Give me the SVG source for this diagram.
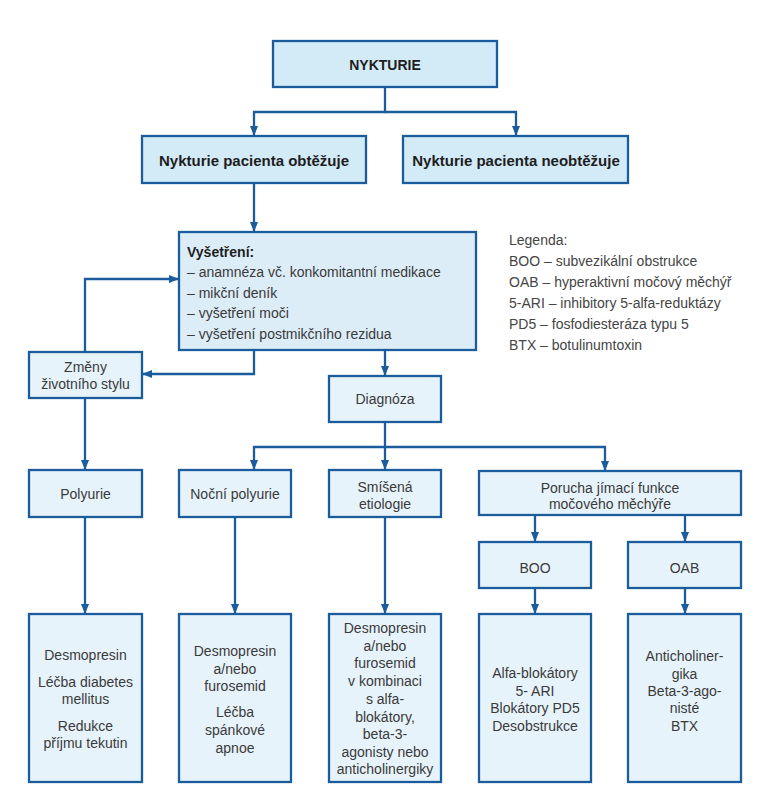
<svg xmlns="http://www.w3.org/2000/svg" width="769" height="800" viewBox="0 0 769 800">
<style>
  .box{stroke:#1b5c9c;stroke-width:2.3;}
  .top{fill:#d3eaf7;}
  .mid{fill:#dcedf8;}
  .low{fill:#e7f3fb;}
  text{font-family:"Liberation Sans",Arial,sans-serif;font-size:14px;fill:#3a3a3a;}
  .c{text-anchor:middle;}
  .b{font-weight:bold;fill:#1e1e1e;}
  .b15{font-size:15px;}
  .leg{fill:#454545;}
  .conn{fill:none;stroke:#1b5c9c;stroke-width:2.3;marker-end:url(#arr);}
</style>
<defs>
  <marker id="arr" viewBox="0 0 10 8" refX="10" refY="4" markerWidth="10" markerHeight="8" markerUnits="userSpaceOnUse" orient="auto">
    <path d="M0,0 L10,4 L0,8 z" fill="#1b5c9c"/>
  </marker>
</defs>
<rect width="769" height="800" fill="#ffffff"/>

<g id="connectors">
  <path class="conn" d="M385,87 V112 H254 V136"/>
  <path class="conn" d="M385,112 H516 V136"/>
  <path class="conn" d="M254,183 V232"/>
  <path class="conn" d="M254,350 V374 H142"/>
  <path class="conn" d="M85,352 V279 H179"/>
  <path class="conn" d="M385,350 V376"/>
  <path class="conn" d="M85,398 V470"/>
  <path class="conn" d="M385,422 V470"/>
  <path class="conn" d="M385,447 H254 V470"/>
  <path class="conn" d="M385,447 H605 V471"/>
  <path class="conn" d="M535,515 V542"/>
  <path class="conn" d="M685,515 V542"/>
  <path class="conn" d="M85,517 V614"/>
  <path class="conn" d="M235,517 V614"/>
  <path class="conn" d="M385,517 V614"/>
  <path class="conn" d="M535,588 V614"/>
  <path class="conn" d="M685,588 V614"/>
</g>

<g id="nykturie">
  <rect class="box top" x="273" y="41" width="224" height="46"/>
  <text class="c b" x="385" y="70">NYKTURIE</text>
</g>
<g id="obtezuje">
  <rect class="box top" x="142" y="136" width="224" height="47"/>
  <text class="c b b15" x="254" y="166">Nykturie pacienta obtěžuje</text>
</g>
<g id="neobtezuje">
  <rect class="box top" x="403" y="136" width="225" height="47"/>
  <text class="c b b15" x="516" y="166">Nykturie pacienta neobtěžuje</text>
</g>
<g id="vysetreni">
  <rect class="box mid" x="179" y="232" width="297" height="118"/>
  <text class="b" x="187" y="257">Vyšetření:</text>
  <text x="187" y="277">– anamnéza vč. konkomitantní medikace</text>
  <text x="187" y="298">– mikční deník</text>
  <text x="187" y="318">– vyšetření moči</text>
  <text x="187" y="339">– vyšetření postmikčního rezidua</text>
</g>
<g id="legenda">
  <text class="leg" x="509" y="245">Legenda:</text>
  <text class="leg" x="509" y="266">BOO – subvezikální obstrukce</text>
  <text class="leg" x="509" y="287">OAB – hyperaktivní močový měchýř</text>
  <text class="leg" x="509" y="308">5-ARI – inhibitory 5-alfa-reduktázy</text>
  <text class="leg" x="509" y="329">PD5 – fosfodiesteráza typu 5</text>
  <text class="leg" x="509" y="350">BTX – botulinumtoxin</text>
</g>
<g id="zmeny">
  <rect class="box low" x="29" y="352" width="113" height="46"/>
  <text class="c" x="85.5" y="372">Změny</text>
  <text class="c" x="85.5" y="389">životního stylu</text>
</g>
<g id="diagnoza">
  <rect class="box low" x="329" y="376" width="112" height="46"/>
  <text class="c" x="385" y="404">Diagnóza</text>
</g>
<g id="polyurie">
  <rect class="box low" x="29" y="470" width="113" height="47"/>
  <text class="c" x="85.5" y="499">Polyurie</text>
</g>
<g id="nocni">
  <rect class="box low" x="179" y="470" width="112" height="47"/>
  <text class="c" x="235" y="499">Noční polyurie</text>
</g>
<g id="smisena">
  <rect class="box low" x="329" y="470" width="112" height="47"/>
  <text class="c" x="385" y="492">Smíšená</text>
  <text class="c" x="385" y="509">etiologie</text>
</g>
<g id="porucha">
  <rect class="box low" x="479" y="471" width="262" height="44"/>
  <text class="c" x="610" y="493">Porucha jímací funkce</text>
  <text class="c" x="610" y="509">močového měchýře</text>
</g>
<g id="boo">
  <rect class="box low" x="479" y="542" width="112" height="46"/>
  <text class="c" x="535" y="573">BOO</text>
</g>
<g id="oab">
  <rect class="box low" x="628" y="542" width="113" height="46"/>
  <text class="c" x="684.5" y="573">OAB</text>
</g>
<g id="lecba1">
  <rect class="box low" x="29" y="614" width="113" height="168"/>
  <text class="c" x="85.5" y="660">Desmopresin</text>
  <text class="c" x="85.5" y="687">Léčba diabetes</text>
  <text class="c" x="85.5" y="704">mellitus</text>
  <text class="c" x="85.5" y="731">Redukce</text>
  <text class="c" x="85.5" y="748">příjmu tekutin</text>
</g>
<g id="lecba2">
  <rect class="box low" x="179" y="614" width="112" height="168"/>
  <text class="c" x="235" y="656">Desmopresin</text>
  <text class="c" x="235" y="674">a/nebo</text>
  <text class="c" x="235" y="691">furosemid</text>
  <text class="c" x="235" y="717">Léčba</text>
  <text class="c" x="235" y="735">spánkové</text>
  <text class="c" x="235" y="753">apnoe</text>
</g>
<g id="lecba3">
  <rect class="box low" x="329" y="614" width="112" height="168"/>
  <text class="c" x="385" y="633">Desmopresin</text>
  <text class="c" x="385" y="651">a/nebo</text>
  <text class="c" x="385" y="668">furosemid</text>
  <text class="c" x="385" y="686">v kombinaci</text>
  <text class="c" x="385" y="704">s alfa-</text>
  <text class="c" x="385" y="722">blokátory,</text>
  <text class="c" x="385" y="739">beta-3-</text>
  <text class="c" x="385" y="757">agonisty nebo</text>
  <text class="c" x="385" y="774">anticholinergiky</text>
</g>
<g id="lecba4">
  <rect class="box low" x="479" y="614" width="112" height="168"/>
  <text class="c" x="535" y="678">Alfa-blokátory</text>
  <text class="c" x="535" y="696">5- ARI</text>
  <text class="c" x="535" y="713">Blokátory PD5</text>
  <text class="c" x="535" y="731">Desobstrukce</text>
</g>
<g id="lecba5">
  <rect class="box low" x="628" y="614" width="113" height="168"/>
  <text class="c" x="684.5" y="661">Anticholiner-</text>
  <text class="c" x="684.5" y="679">gika</text>
  <text class="c" x="684.5" y="696">Beta-3-ago-</text>
  <text class="c" x="684.5" y="713">nisté</text>
  <text class="c" x="684.5" y="731">BTX</text>
</g>
</svg>
